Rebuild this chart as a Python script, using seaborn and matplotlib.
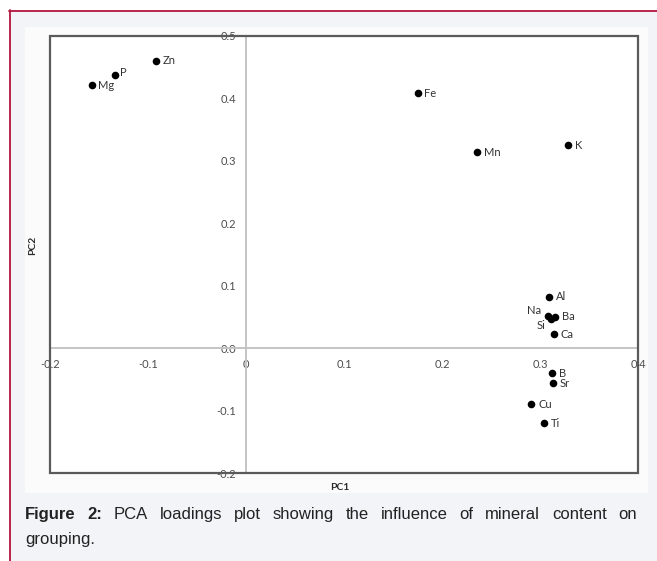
import pandas as pd
import matplotlib.pyplot as plt
import seaborn as sns
from matplotlib.patches import Rectangle
from matplotlib.lines import Line2D

# ---- Data ----
elements = ["Zn", "P", "Mg", "Fe", "Mn", "K", "Al", "Na", "Ba", "Si",
            "Ca", "B", "Sr", "Cu", "Ti"]
pc1 = [-0.092, -0.134, -0.157, 0.175, 0.236, 0.329, 0.309, 0.308, 0.315, 0.311,
       0.314, 0.312, 0.313, 0.291, 0.304]
pc2 = [0.460, 0.437, 0.422, 0.408, 0.314, 0.325, 0.082, 0.051, 0.050, 0.047,
       0.022, -0.040, -0.056, -0.090, -0.120]

x_ticks = [-0.2, -0.1, 0.0, 0.1, 0.2, 0.3, 0.4]
x_tick_labels = ["-0.2", "-0.1", "0", "0.1", "0.2", "0.3", "0.4"]
y_ticks = [-0.2, -0.1, 0.0, 0.1, 0.2, 0.3, 0.4, 0.5]
y_tick_labels = ["-0.2", "-0.1", "0.0", "0.1", "0.2", "0.3", "0.4", "0.5"]

caption_bold = "Figure 2:"
caption_line1 = "PCA loadings plot showing the influence of mineral content on"
caption_line2 = "grouping."

# label placement (offset in points, horizontal alignment); default is right of the dot
label_style = {
    "Na": ((-4.5, 4.5), "right"),
    "Si": ((-4.0, -5.0), "right"),
    "Ba": ((5.5, 0.0), "left"),
    "P": ((3.5, 2.0), "left"),
    "Mg": ((4.5, -0.5), "left"),
}

df = pd.DataFrame({"Element": elements, "PC1": pc1, "PC2": pc2})

# ---- Figure ----
sns.set_style("white")
plt.rcParams["font.family"] = ["Lato", "DejaVu Sans"]

W, H = 657, 561
fig = plt.figure(figsize=(W / 100, H / 100), dpi=100)
fig.patch.set_facecolor("#f3f4f7")


def fx(px):
    return px / W


def fy(py):
    return 1 - py / H


# page background: white margin, red border, near-white chart image
fig.add_artist(Rectangle((0, fy(10)), 1, 10 / H, transform=fig.transFigure,
                         facecolor="white", edgecolor="none", zorder=-10))
fig.add_artist(Rectangle((0, 0), fx(9), 1, transform=fig.transFigure,
                         facecolor="white", edgecolor="none", zorder=-10))
fig.add_artist(Line2D([fx(9), 1], [fy(10.5), fy(10.5)], transform=fig.transFigure,
                      color="#b3163c", lw=1.3, zorder=-5))
fig.add_artist(Line2D([fx(9.5), fx(9.5)], [fy(10), 0], transform=fig.transFigure,
                      color="#b3163c", lw=1.3, zorder=-5))
fig.add_artist(Rectangle((fx(25), fy(493)), fx(648) - fx(25), (493 - 27) / H,
                         transform=fig.transFigure, facecolor="#fbfbfb",
                         edgecolor="none", zorder=-9))

ax = fig.add_axes([fx(50), fy(473), fx(638) - fx(50), (473 - 36) / H])
ax.set_facecolor("white")

sns.scatterplot(data=df, x="PC1", y="PC2", color="black", s=30, linewidth=0,
                legend=False, ax=ax, zorder=5)

ax.set_xlim(-0.2, 0.4)
ax.set_ylim(-0.2, 0.5)

# Excel-like axes crossing at the origin
for side in ["left", "bottom"]:
    ax.spines[side].set_position(("data", 0))
    ax.spines[side].set_color("#c4c4c4")
    ax.spines[side].set_linewidth(1.4)
for side in ["top", "right"]:
    ax.spines[side].set_visible(False)
ax.add_patch(Rectangle((0, 0), 1, 1, transform=ax.transAxes, fill=False,
                       edgecolor="#5a5a5a", lw=1.6, clip_on=False, zorder=6))

ax.set_xticks(x_ticks)
ax.set_xticklabels(x_tick_labels)
ax.set_yticks(y_ticks)
ax.set_yticklabels(y_tick_labels)
ax.tick_params(axis="both", which="major", direction="out", length=3, width=1,
               color="#c4c4c4", labelsize=8, labelcolor="#4d4d4d")
ax.tick_params(axis="x", pad=5)
ax.tick_params(axis="y", pad=4)

ax.set_xlabel("PC1", fontsize=7.5, fontweight="bold", color="#2b2b2b")
ax.set_ylabel("PC2", fontsize=7.5, fontweight="bold", color="#2b2b2b")
ax.xaxis.set_label_coords(0.493, -0.022)
ax.yaxis.set_label_coords(-0.022, 0.52)

for name, x, y in zip(elements, pc1, pc2):
    offset, ha = label_style.get(name, ((5.0, 0.0), "left"))
    ax.annotate(name, (x, y), xytext=offset, textcoords="offset points",
                ha=ha, va="center", fontsize=8, color="#333333", zorder=7)

# ---- Caption (justified first line) ----
renderer = fig.canvas.get_renderer()
cap_font = dict(family=["Liberation Sans", "DejaVu Sans"], fontsize=12, color="#222222")


def text_width(s, weight):
    t = fig.text(0, 0, s, fontweight=weight, **cap_font)
    w = t.get_window_extent(renderer).width
    t.remove()
    return w


words = [(w, "bold") for w in caption_bold.split()] + [(w, "normal") for w in caption_line1.split()]
widths = [text_width(w, wt) for w, wt in words]
x_left, x_right = 25, 637
gap = (x_right - x_left - sum(widths)) / (len(words) - 1)
xpos = x_left
for (w, wt), wd in zip(words, widths):
    fig.text(fx(xpos), fy(519), w, fontweight=wt, ha="left", va="baseline", **cap_font)
    xpos += wd + gap
fig.text(fx(x_left), fy(544), caption_line2, ha="left", va="baseline", **cap_font)

fig.savefig("out.png", dpi=100, facecolor=fig.get_facecolor())
